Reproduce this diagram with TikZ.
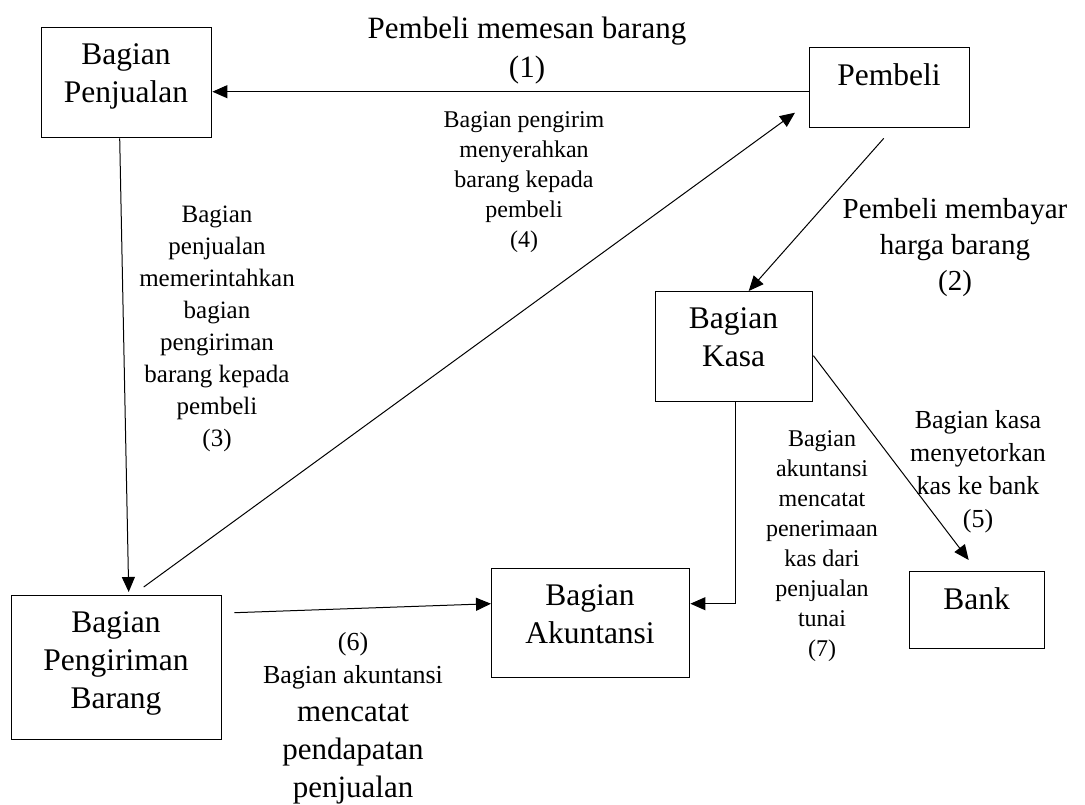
\documentclass[tikz,border=0pt]{standalone}
\usepackage{fontspec}
\setmainfont{Liberation Serif}
\usetikzlibrary{arrows.meta,calc}
\begin{document}
\begin{tikzpicture}[x=1pt,y=-1pt,
  box/.style={draw, line width=1.4pt, inner sep=0pt, anchor=north west},
  boxtxt/.style={anchor=north, align=center, inner sep=0pt, font=\fontsize{31.5}{38}\selectfont},
  lbl/.style={anchor=north, align=center, inner sep=0pt},
  arr/.style={line width=1pt, -{Triangle[length=15pt,width=13pt]}},
]
\useasboundingbox (0,0) rectangle (1085,804);

% boxes
\node[box, minimum width=170pt, minimum height=110pt] (pj) at (41,27) {};
\node[box, minimum width=160pt, minimum height=80pt] (pb) at (809,47) {};
\node[box, minimum width=157pt, minimum height=110pt] (ks) at (655,291) {};
\node[box, minimum width=198pt, minimum height=109pt] (ak) at (491,568) {};
\node[box, minimum width=135pt, minimum height=77pt] (bk) at (909,571) {};
\node[box, minimum width=210pt, minimum height=144pt] (pg) at (11,595) {};

\node[boxtxt] (pjt) at (126,43.8) {Bagian\\Penjualan};
\node[boxtxt] (pbt) at (889,63.8) {Pembeli};
\node[boxtxt] (kst) at (733.5,307.8) {Bagian\\Kasa};
\node[boxtxt] (akt) at (590,584.8) {Bagian\\Akuntansi};
\node[boxtxt] (bkt) at (976.5,587.8) {Bank};
\node[boxtxt] (pgt) at (116,611.8) {Bagian\\Pengiriman\\Barang};

% labels
\node[lbl, font=\fontsize{31}{39}\selectfont] (l1) at (527,16.6) {Pembeli memesan barang\\(1)};
\node[lbl, font=\fontsize{29}{36}\selectfont] (l2) at (955,198) {Pembeli membayar\\harga barang\\(2)};
\node[lbl, font=\fontsize{25}{32}\selectfont] (l3) at (217,205.7) {Bagian\\penjualan\\memerintahkan\\bagian\\pengiriman\\barang kepada\\pembeli\\(3)};
\node[lbl, font=\fontsize{24}{30}\selectfont] (l4) at (524,111) {Bagian pengirim\\menyerahkan\\barang kepada\\pembeli\\(4)};
\node[lbl, font=\fontsize{26}{33}\selectfont] (l5) at (978,410) {Bagian kasa\\menyetorkan\\kas ke bank\\(5)};
\node[lbl, font=\fontsize{24}{30}\selectfont] (l7) at (822,430) {Bagian\\akuntansi\\mencatat\\penerimaan\\kas dari\\penjualan\\tunai\\(7)};
\node[lbl, font=\fontsize{26}{33}\selectfont] (l6a) at (353,632) {(6)\\Bagian akuntansi};
\node[lbl, font=\fontsize{31}{38}\selectfont] (l6b) at (353,704) {mencatat\\pendapatan\\penjualan};

% connectors
\draw[arr] ($(pb.west)+(0,4)$) -- ($(pj.east)+(0,9)$);
\draw[arr] ($(pb.south)+(-6,10)$) -- ($(ks.north)+(14.5,0)$);
\draw[arr] ($(pj.south)+(-7,0)$) -- ($(pg.north)+(12,-3)$);
\draw[arr] ($(pg.north)+(27,-8)$) -- ($(pb.west)+(-14,25)$);
\draw[arr] ($(ks.east)+(0,9)$) -- ($(bk.north)+(-8.5,-11)$);
\draw[arr] ($(pg.east)+(12,-55)$) -- ($(ak.west)+(0,-19.5)$);
\draw[arr] ($(ks.south)+(1.5,0)$) |- ($(ak.east)+(0,-19.5)$);
\end{tikzpicture}
\end{document}
